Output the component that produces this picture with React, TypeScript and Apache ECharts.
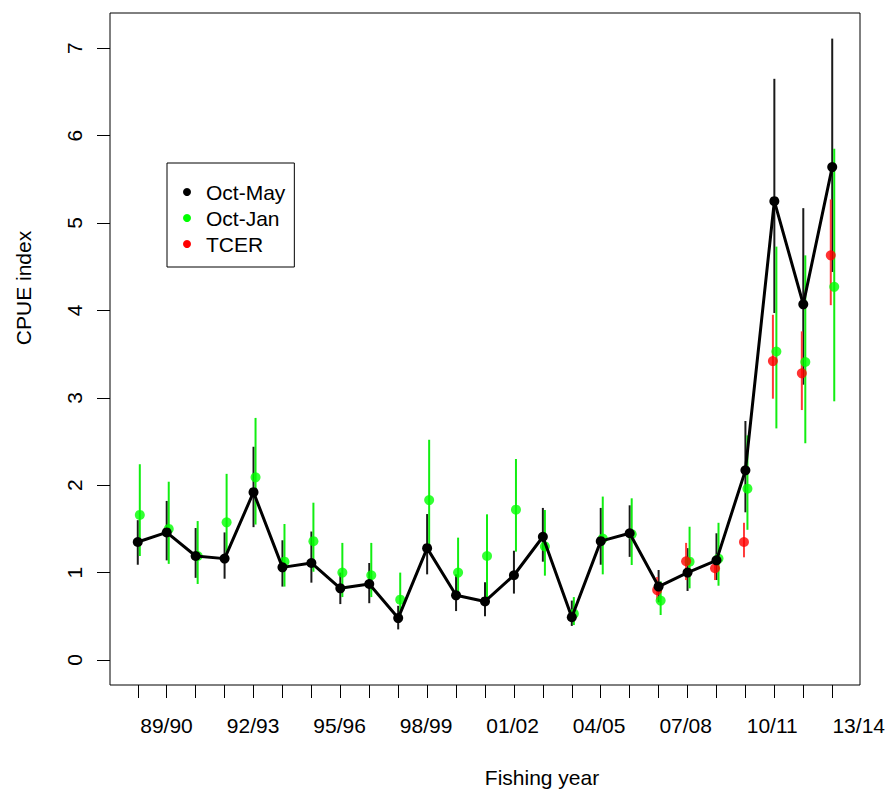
import { useEffect, useRef } from "react";
import * as echarts from "echarts";

// Fishing years; the last one is only used as an axis label
const fishingYears = [
  "88/89", "89/90", "90/91", "91/92", "92/93", "93/94", "94/95", "95/96", "96/97",
  "97/98", "98/99", "99/00", "00/01", "01/02", "02/03", "03/04", "04/05", "05/06",
  "06/07", "07/08", "08/09", "09/10", "10/11", "11/12", "12/13", "13/14",
];

// Position of each year on the x axis (1 = 88/89)
const yearIndex = [
  1, 2, 3, 4, 5, 6, 7, 8, 9, 10, 11, 12, 13, 14, 15, 16, 17, 18, 19, 20, 21, 22, 23, 24, 25,
];

// Years that carry a tick label
const labelledYears = [2, 5, 8, 11, 14, 17, 20, 23, 26];

const yTicks = [0, 1, 2, 3, 4, 5, 6, 7];

// Oct-May standardised index with 95% interval
const octMay = [
  1.35, 1.46, 1.19, 1.16, 1.92, 1.06, 1.11, 0.82, 0.87, 0.48, 1.28, 0.74, 0.67,
  0.97, 1.41, 0.49, 1.36, 1.45, 0.84, 1.0, 1.14, 2.17, 5.25, 4.07, 5.64,
];
const octMayLower = [
  1.09, 1.14, 0.94, 0.93, 1.52, 0.84, 0.885, 0.64, 0.65, 0.35, 0.98, 0.56, 0.5,
  0.76, 1.125, 0.39, 1.09, 1.18, 0.66, 0.79, 0.915, 1.69, 3.97, 3.15, 4.44,
];
const octMayUpper = [
  1.6, 1.82, 1.51, 1.46, 2.44, 1.37, 1.47, 1.0, 1.11, 0.62, 1.67, 0.98, 0.89,
  1.25, 1.74, 0.68, 1.74, 1.77, 1.03, 1.28, 1.45, 2.735, 6.65, 5.17, 7.11,
];

// Oct-Jan standardised index with 95% interval
const octJan = [
  1.66, 1.5, 1.19, 1.575, 2.09, 1.125, 1.36, 1.0, 0.97, 0.69, 1.83, 1.0, 1.19,
  1.72, 1.3, 0.53, 1.39, 1.44, 0.68, 1.125, 1.16, 1.96, 3.53, 3.41, 4.27,
];
const octJanLower = [
  1.19, 1.1, 0.87, 1.22, 1.55, 0.84, 1.01, 0.72, 0.72, 0.48, 1.28, 0.74, 0.69,
  1.24, 0.965, 0.4, 0.98, 1.087, 0.515, 0.82, 0.85, 1.49, 2.65, 2.48, 2.96,
];
const octJanUpper = [
  2.24, 2.04, 1.59, 2.13, 2.77, 1.556, 1.8, 1.34, 1.34, 1.0, 2.52, 1.4, 1.667,
  2.3, 1.716, 0.72, 1.87, 1.85, 0.9, 1.525, 1.57, 2.57, 4.73, 4.63, 5.85,
];

// TCER index (from 06/07 onwards)
const tcer = [
  null, null, null, null, null, null, null, null, null, null, null, null, null,
  null, null, null, null, null, 0.8, 1.13, 1.05, 1.35, 3.42, 3.28, 4.63,
];
const tcerLower = [
  null, null, null, null, null, null, null, null, null, null, null, null, null,
  null, null, null, null, null, 0.69, 0.915, 0.915, 1.175, 2.99, 2.86, 4.06,
];
const tcerUpper = [
  null, null, null, null, null, null, null, null, null, null, null, null, null,
  null, null, null, null, null, 0.95, 1.34, 1.18, 1.57, 3.95, 3.76, 5.27,
];

const FONT = "'Liberation Sans', Arial, Helvetica, sans-serif";
const BLACK = "#000000";
const GREEN = "#00ff00";
const RED = "#ff0000";

// small horizontal dodge so overlapping series stay readable
const GREEN_SHIFT = 0.07;
const RED_SHIFT = -0.05;

function points(values: (number | null)[], shift: number) {
  const out: number[][] = [];
  values.forEach((v, i) => {
    if (v != null) out.push([yearIndex[i] + shift, v]);
  });
  return out;
}

function intervals(lo: (number | null)[], hi: (number | null)[], shift: number) {
  const out: number[][] = [];
  lo.forEach((l, i) => {
    const h = hi[i];
    if (l != null && h != null) out.push([yearIndex[i] + shift, l, h]);
  });
  return out;
}

function errorBarSeries(name: string, data: number[][], color: string) {
  return {
    name,
    type: "custom",
    xAxisIndex: 0,
    yAxisIndex: 0,
    data,
    encode: { x: 0, y: [1, 2] },
    renderItem: (_params: any, api: any) => {
      const a = api.coord([api.value(0), api.value(1)]);
      const b = api.coord([api.value(0), api.value(2)]);
      return {
        type: "line",
        shape: { x1: a[0], y1: a[1], x2: b[0], y2: b[1] },
        style: { stroke: color, lineWidth: 2 },
      };
    },
  };
}

export default function App() {
  const ref = useRef<HTMLDivElement>(null);

  useEffect(() => {
    if (!ref.current) return;
    const chart = echarts.init(ref.current, null, { renderer: "svg" });

    const option: any = {
      animation: false,
      backgroundColor: "#ffffff",
      textStyle: { fontFamily: FONT },
      grid: [
        {
          left: 110,
          top: 13,
          width: 750,
          height: 672,
          show: true,
          borderColor: BLACK,
          borderWidth: 1,
          backgroundColor: "transparent",
        },
        {
          left: 110,
          top: 13,
          width: 780.1,
          height: 672,
          show: false,
        },
      ],
      xAxis: [
        {
          type: "value",
          gridIndex: 0,
          position: "bottom",
          min: 0.04,
          max: 25.96,
          axisLine: { show: false, onZero: false },
          splitLine: { show: false },
          axisTick: {
            show: true,
            customValues: yearIndex,
            length: 13,
            lineStyle: { color: BLACK, width: 1 },
          },
          axisLabel: { show: false },
        },
        {
          type: "value",
          gridIndex: 1,
          position: "bottom",
          min: 0.04,
          max: 27,
          axisLine: { show: false, onZero: false },
          splitLine: { show: false },
          axisTick: { show: false },
          axisLabel: {
            show: true,
            customValues: labelledYears,
            margin: 30,
            fontSize: 21,
            fontFamily: FONT,
            color: BLACK,
            lineHeight: 21,
            formatter: (v: number) => fishingYears[Math.round(v) - 1] ?? "",
          },
        },
      ],
      yAxis: [
        {
          type: "value",
          gridIndex: 0,
          position: "left",
          min: -0.286,
          max: 7.403,
          axisLine: { show: false, onZero: false },
          splitLine: { show: false },
          axisTick: {
            show: true,
            customValues: yTicks,
            length: 13,
            lineStyle: { color: BLACK, width: 1 },
          },
          axisLabel: {
            show: true,
            customValues: yTicks,
            rotate: 90,
            margin: 25,
            fontSize: 21,
            fontFamily: FONT,
            color: BLACK,
            lineHeight: 21,
          },
        },
        {
          type: "value",
          gridIndex: 1,
          show: false,
          min: 0,
          max: 1,
        },
      ],
      legend: {
        orient: "vertical",
        left: 167,
        top: 163,
        padding: [18.5, 9, 12.5, 16],
        itemGap: 5,
        itemWidth: 28,
        itemHeight: 8,
        borderColor: BLACK,
        borderWidth: 1,
        borderRadius: 0,
        backgroundColor: "#ffffff",
        selectedMode: false,
        textStyle: { fontSize: 21, fontFamily: FONT, color: BLACK, lineHeight: 21 },
        data: [
          { name: "Oct-May", icon: "circle", itemStyle: { color: BLACK } },
          { name: "Oct-Jan", icon: "circle", itemStyle: { color: GREEN } },
          { name: "TCER", icon: "circle", itemStyle: { color: RED } },
        ],
      },
      series: [
        errorBarSeries("Oct-May", intervals(octMayLower, octMayUpper, 0), "#1a1a1a"),
        {
          name: "Oct-May",
          type: "line",
          xAxisIndex: 0,
          yAxisIndex: 0,
          data: points(octMay, 0),
          symbol: "circle",
          symbolSize: 10,
          showAllSymbol: true,
          lineStyle: { color: BLACK, width: 3 },
          itemStyle: { color: BLACK },
        },
        errorBarSeries("Oct-Jan", intervals(octJanLower, octJanUpper, GREEN_SHIFT), "#11ee11"),
        {
          name: "Oct-Jan",
          type: "scatter",
          xAxisIndex: 0,
          yAxisIndex: 0,
          data: points(octJan, GREEN_SHIFT),
          symbol: "circle",
          symbolSize: 10,
          itemStyle: { color: GREEN },
        },
        errorBarSeries("TCER", intervals(tcerLower, tcerUpper, RED_SHIFT), "#ff3a3a"),
        {
          name: "TCER",
          type: "scatter",
          xAxisIndex: 0,
          yAxisIndex: 0,
          data: points(tcer, RED_SHIFT),
          symbol: "circle",
          symbolSize: 10,
          itemStyle: { color: RED },
        },
      ],
      graphic: [
        {
          type: "text",
          x: 542,
          y: 777,
          style: {
            text: "Fishing year",
            fontSize: 21,
            fontFamily: FONT,
            fill: BLACK,
            textAlign: "center",
            textVerticalAlign: "middle",
          },
        },
        {
          type: "text",
          x: 23,
          y: 288,
          rotation: Math.PI / 2,
          style: {
            text: "CPUE index",
            fontSize: 21,
            fontFamily: FONT,
            fill: BLACK,
            textAlign: "center",
            textVerticalAlign: "middle",
          },
        },
      ],
    };

    chart.setOption(option);
    return () => chart.dispose();
  }, []);

  return (
    <div
      ref={ref}
      style={{ position: "fixed", left: 0, top: 0, width: 888, height: 789, background: "#fff" }}
    />
  );
}
